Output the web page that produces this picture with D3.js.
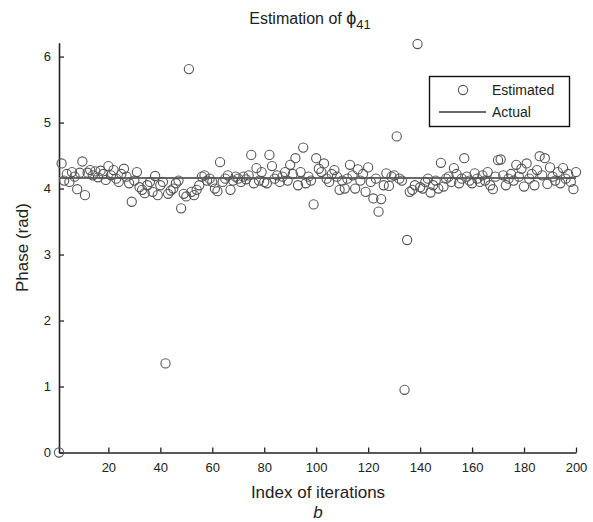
<!DOCTYPE html>
<html>
<head>
<meta charset="utf-8">
<script src="https://cdn.jsdelivr.net/npm/d3@7"></script>
<style>
  html, body { margin: 0; padding: 0; background: #fff; }
  svg { display: block; font-family: "Liberation Sans", Arial, sans-serif; }
</style>
</head>
<body>
<div id="chart"></div>
<script>
/* estimated phase per iteration (index 1..200) */
var estimated = [
  0.00, 4.38, 4.12, 4.22, 4.10, 4.25, 4.18, 3.99, 4.24, 4.41,
  3.90, 4.24, 4.28, 4.20, 4.26, 4.17, 4.27, 4.22, 4.13, 4.34,
  4.20, 4.28, 4.15, 4.10, 4.22, 4.30, 4.18, 4.08, 3.80, 4.12,
  4.25, 4.02, 3.98, 3.93, 4.05, 4.10, 3.95, 4.19, 3.90, 4.05,
  4.10, 1.35, 3.92, 3.97, 4.00, 4.08, 4.12, 3.70, 3.92, 3.88,
  5.81, 3.95, 3.90, 3.98, 4.05, 4.18, 4.20, 4.12, 4.15, 4.10,
  4.00, 3.96, 4.40, 4.10, 4.15, 4.20, 3.98, 4.12, 4.18, 4.15,
  4.10, 4.18, 4.14, 4.20, 4.51, 4.08, 4.31, 4.12, 4.25, 4.10,
  4.08, 4.51, 4.34, 4.15, 4.20, 4.10, 4.18, 4.25, 4.12, 4.36,
  4.22, 4.46, 4.05, 4.25, 4.62, 4.08, 4.18, 4.12, 3.76, 4.46,
  4.30, 4.25, 4.38, 4.15, 4.10, 4.22, 4.28, 4.18, 3.98, 4.12,
  4.00, 4.15, 4.36, 4.20, 4.00, 4.29, 4.12, 4.22, 3.95, 4.32,
  4.10, 3.85, 4.15, 3.65, 3.84, 4.05, 4.23, 4.04, 4.18, 4.20,
  4.79, 4.15, 4.12, 0.95, 3.22, 3.95, 3.98, 4.05, 6.19, 4.02,
  4.00, 4.10, 4.15, 3.94, 4.05, 4.12, 4.00, 4.39, 4.03, 4.15,
  4.18, 4.10, 4.31, 4.22, 4.08, 4.15, 4.46, 4.18, 4.12, 4.08,
  4.23, 4.15, 4.10, 4.20, 4.12, 4.25, 4.05, 3.99, 4.18, 4.43,
  4.44, 4.20, 4.05, 4.15, 4.22, 4.12, 4.36, 4.18, 4.30, 4.03,
  4.38, 4.15, 4.22, 4.05, 4.28, 4.49, 4.20, 4.46, 4.07, 4.32,
  4.18, 4.12, 4.25, 4.08, 4.31, 4.15, 4.22, 4.10, 3.99, 4.25
];
var actualPhase = 4.16;
var xTicks = [20, 40, 60, 80, 100, 120, 140, 160, 180, 200];
var yTicks = [0, 1, 2, 3, 4, 5, 6];
var legendLabels = ['Estimated', 'Actual'];

var W = 593, H = 522;
var svg = d3.select('#chart').append('svg')
  .attr('width', W).attr('height', H);

var x = d3.scaleLinear().domain([1, 200]).range([59, 576]);
var y = d3.scaleLinear().domain([0, 6.21]).range([452.5, 42.7]);

var axisCol = '#222';

/* axes, ticks point inward */
var xAxis = svg.append('g')
  .attr('transform', 'translate(0,' + y(0) + ')')
  .call(d3.axisBottom(x).tickValues(xTicks).tickFormat(d3.format('d'))
    .tickSizeInner(-5).tickSizeOuter(0).tickPadding(10));
var yAxis = svg.append('g')
  .attr('transform', 'translate(' + x(1) + ',0)')
  .call(d3.axisLeft(y).tickValues(yTicks).tickFormat(d3.format('d'))
    .tickSizeInner(-5).tickSizeOuter(0).tickPadding(8));

[xAxis, yAxis].forEach(function (g) {
  g.select('.domain').attr('stroke', axisCol).attr('stroke-width', 1.6);
  g.selectAll('.tick line').attr('stroke', axisCol).attr('stroke-width', 1.3);
  g.selectAll('.tick text').attr('fill', '#222').style('font-size', '13px')
    .style('font-family', '"Liberation Sans", Arial, sans-serif');
});

/* actual value line */
svg.append('line')
  .attr('x1', x(1)).attr('x2', x(200))
  .attr('y1', y(actualPhase)).attr('y2', y(actualPhase))
  .attr('stroke', '#6a6a6a').attr('stroke-width', 2);

/* estimated markers */
svg.append('g').selectAll('circle')
  .data(estimated)
  .enter().append('circle')
  .attr('cx', function (d, i) { return x(i + 1); })
  .attr('cy', function (d) { return y(d); })
  .attr('r', 4.6)
  .attr('fill', 'none')
  .attr('stroke', '#555')
  .attr('stroke-width', 1.1);

/* title */
var title = svg.append('text')
  .attr('x', 310).attr('y', 24)
  .attr('text-anchor', 'middle')
  .style('font-size', '16px').attr('fill', '#222');
title.append('tspan').text('Estimation of  ');
title.append('tspan').text('\u03d5').style('font-size', '18px');
title.append('tspan').text('41').attr('dy', 5).style('font-size', '13px');

/* axis labels */
svg.append('text')
  .attr('transform', 'translate(28,' + ((y(0) + y(6.21)) / 2) + ') rotate(-90)')
  .attr('text-anchor', 'middle')
  .style('font-size', '17px').attr('fill', '#222')
  .text('Phase (rad)');

svg.append('text')
  .attr('x', 318).attr('y', 498)
  .attr('text-anchor', 'middle')
  .style('font-size', '17px').attr('fill', '#222')
  .text('Index of iterations');

svg.append('text')
  .attr('x', 318).attr('y', 518)
  .attr('text-anchor', 'middle')
  .style('font-size', '17px').style('font-style', 'italic').attr('fill', '#222')
  .text('b');

/* legend */
var lg = svg.append('g');
lg.append('rect')
  .attr('x', 429.5).attr('y', 76.5).attr('width', 140).attr('height', 50)
  .attr('fill', '#fff').attr('stroke', '#111').attr('stroke-width', 1.4);
lg.append('circle')
  .attr('cx', 463).attr('cy', 90).attr('r', 4.6)
  .attr('fill', 'none').attr('stroke', '#555').attr('stroke-width', 1.1);
lg.append('line')
  .attr('x1', 439).attr('x2', 486).attr('y1', 112).attr('y2', 112)
  .attr('stroke', '#6a6a6a').attr('stroke-width', 2);
lg.selectAll('text.lab')
  .data(legendLabels)
  .enter().append('text')
  .attr('class', 'lab')
  .attr('x', 492).attr('y', function (d, i) { return 95 + i * 22; })
  .style('font-size', '14px').attr('fill', '#222')
  .text(function (d) { return d; });
</script>
</body>
</html>
